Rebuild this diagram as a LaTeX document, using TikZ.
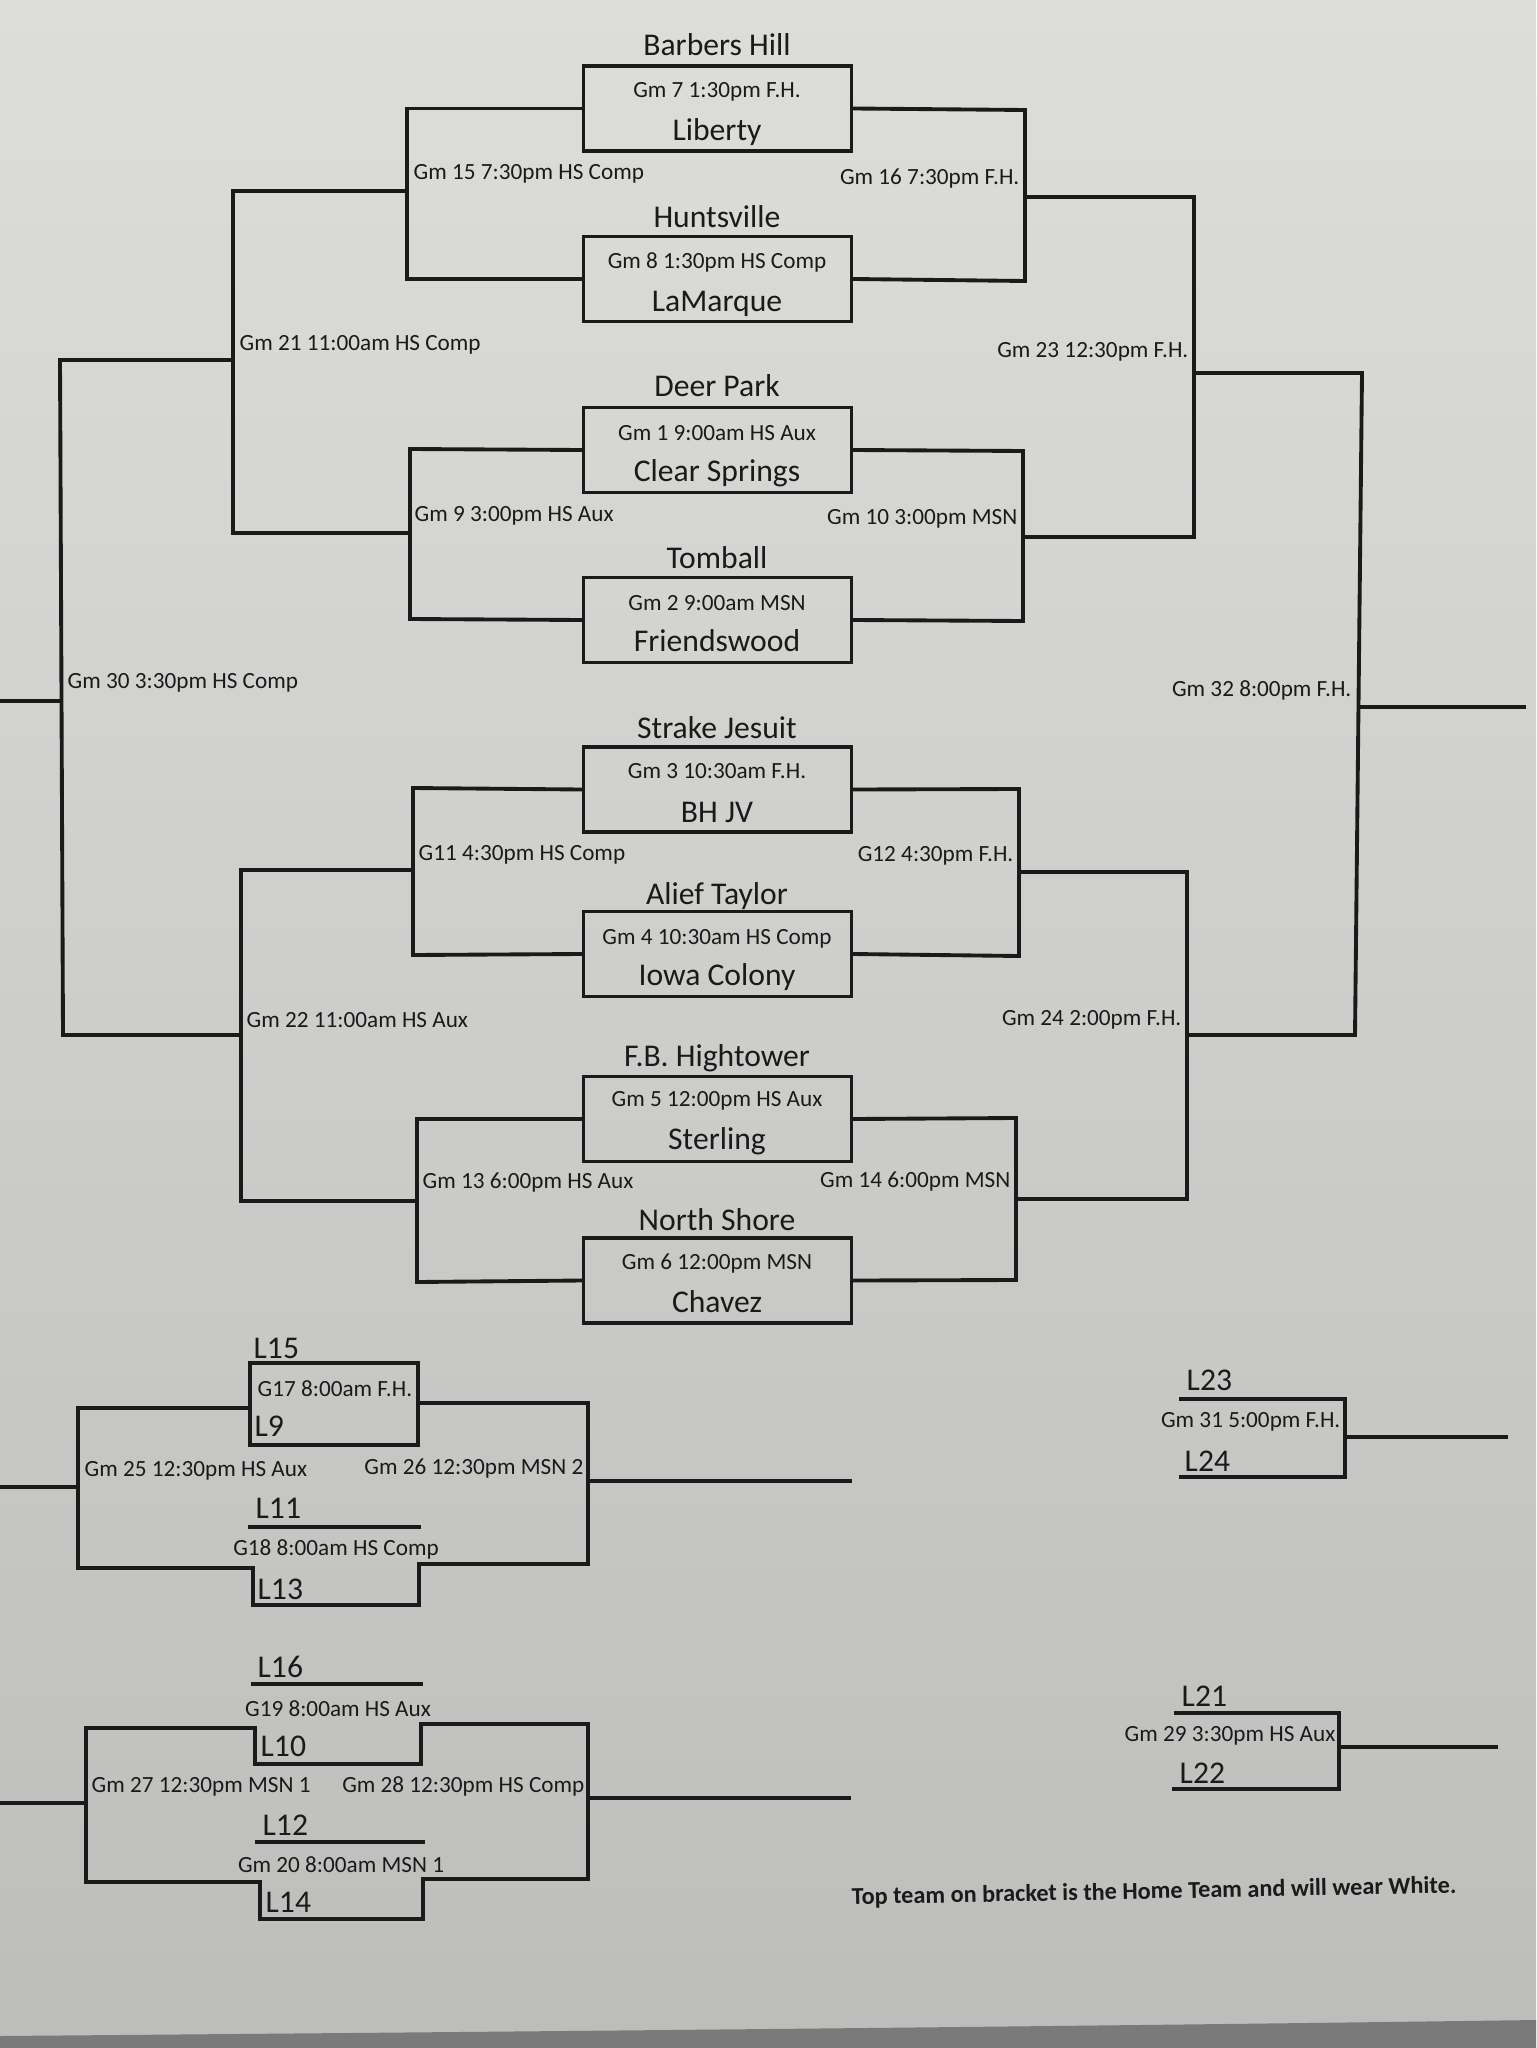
\documentclass[tikz,border=0pt]{standalone}
\usepackage{fontspec}
\setmainfont{Carlito}
\begin{document}
\begin{tikzpicture}[x=0.1mm,y=-0.1mm]
\definecolor{ink}{HTML}{1A1A1A}
\definecolor{paperTop}{HTML}{DDDDDA}
\definecolor{paperMid}{HTML}{D6D6D3}
\definecolor{paperBot}{HTML}{BDBDBB}
\definecolor{band}{HTML}{7A7A7A}
\tikzset{
  lbl/.style={font=\fontsize{6.6}{7}\selectfont, text=ink, inner sep=0pt},
  team/.style={font=\fontsize{9}{10}\selectfont, text=ink, inner sep=0pt},
  gbox/.style={draw=ink, line width=1.1pt, minimum width=26.8mm, minimum height=8.5mm, inner sep=0pt},
  br/.style={draw=ink, line width=1.1pt, line cap=rect},
  note/.style={font=\bfseries\fontsize{6.9}{8}\selectfont, text=ink, inner sep=0pt}
}
\useasboundingbox (0,0) rectangle (1536,2048);
\shade[top color=paperTop, middle color=paperMid, bottom color=paperBot] (0,0) rectangle (1536,2048);
\fill[band] (0,2036) .. controls (600,2031) and (1100,2026) .. (1536,2020) -- (1536,2048) -- (0,2048) -- cycle;

% ---------- first-round boxes ----------
\node[gbox] (g7) at (717.5,108.5) {};
\node[gbox] (g8) at (717.5,279) {};
\node[gbox] (g1) at (717.5,450) {};
\node[gbox] (g2) at (717.5,620) {};
\node[gbox] (g3) at (717.5,789.5) {};
\node[gbox] (g4) at (717.5,954) {};
\node[gbox] (g5) at (717.5,1119) {};
\node[gbox] (g6) at (717.5,1280.5) {};

% team names
\node[team] (tBH) at (717,45) {Barbers Hill};
\node[team] (tLib) at (717,132) {Liberty};
\node[team] (tHun) at (717,217) {Huntsville};
\node[team] (tLaM) at (717,304) {LaMarque};
\node[team] (tDP) at (717,386) {Deer Park};
\node[team] (tCS) at (717,473) {Clear Springs};
\node[team] (tTom) at (717,558) {Tomball};
\node[team] (tFri) at (717,641) {Friendswood};
\node[team] (tSJ) at (717,728) {Strake Jesuit};
\node[team] (tBHJV) at (717,812) {BH JV};
\node[team] (tAT) at (717,896) {Alief Taylor};
\node[team] (tIC) at (717,977) {Iowa Colony};
\node[team] (tFB) at (717,1058) {F.B. Hightower};
\node[team] (tSte) at (717,1141) {Sterling};
\node[team] (tNS) at (717,1220) {North Shore};
\node[team] (tCha) at (717,1302) {Chavez};

% game texts in boxes
\node[lbl] (x7) at (717,92) {Gm 7 1:30pm F.H.};
\node[lbl] (x8) at (717,262) {Gm 8 1:30pm HS Comp};
\node[lbl] (x1) at (717,433) {Gm 1 9:00am HS Aux};
\node[lbl] (x2) at (717,603) {Gm 2 9:00am MSN};
\node[lbl] (x3) at (717,771) {Gm 3 10:30am F.H.};
\node[lbl] (x4) at (717,939) {Gm 4 10:30am HS Comp};
\node[lbl] (x5) at (717,1101) {Gm 5 12:00pm HS Aux};
\node[lbl] (x6) at (717,1264) {Gm 6 12:00pm MSN};

% ---------- bracket connectors ----------
\coordinate (w15) at (407,191);
\coordinate (w16) at (1025,197);
\coordinate (w9) at (410,533);
\coordinate (w10) at (1023,537);
\coordinate (w11) at (413,870);
\coordinate (w12) at (1019,872);
\coordinate (w13) at (417,1201);
\coordinate (w14) at (1016,1199);

\draw[br] (g7.west) -- (407,108.5) -- (407,279) -- (g8.west);
\draw[br] (g7.east) -- (1025,110) -- (1025,281) -- (g8.east);
\draw[br] (g1.west) -- (410,449) -- (410,619) -- (g2.west);
\draw[br] (g1.east) -- (1023,451) -- (1023,621) -- (g2.east);
\draw[br] (g3.west) -- (413,788) -- (413,955) -- (g4.west);
\draw[br] (g3.east) -- (1019,789) -- (1019,956) -- (g4.east);
\draw[br] (g5.west) -- (417,1119) -- (417,1282) -- (g6.west);
\draw[br] (g5.east) -- (1016,1118) -- (1016,1280) -- (g6.east);

\coordinate (w21) at (233,360);
\coordinate (w23) at (1194,373);
\coordinate (w22) at (241,1035);
\coordinate (w24) at (1187,1035);
\draw[br] (w15) -- (233,191) -- (233,533) -- (w9);
\draw[br] (w16) -- (1194,197) -- (1194,537) -- (w10);
\draw[br] (w11) -- (241,870) -- (241,1201) -- (w13);
\draw[br] (w12) -- (1187,872) -- (1187,1199) -- (w14);

\coordinate (w30) at (0,701);
\coordinate (w32) at (1524,707);
\draw[br] (w21) -- (60,360) -- (63,1035) -- (w22);
\draw[br] (w23) -- (1362,373) -- (1355,1035) -- (w24);
\draw[br] (61.5,701) -- (w30);
\draw[br] (1358.5,707) -- (w32);

% bracket labels
\node[lbl, anchor=west] (l15) at (413,174) {Gm 15 7:30pm HS Comp};
\node[lbl, anchor=east] (l16) at (1020,179) {Gm 16 7:30pm F.H.};
\node[lbl, anchor=west] (l21) at (239,345) {Gm 21 11:00am HS Comp};
\node[lbl, anchor=east] (l23) at (1189,352) {Gm 23 12:30pm F.H.};
\node[lbl, anchor=west] (l9) at (414,516) {Gm 9 3:00pm HS Aux};
\node[lbl, anchor=east] (l10) at (1018,519) {Gm 10 3:00pm MSN};
\node[lbl, anchor=west] (l30) at (67,683) {Gm 30 3:30pm HS Comp};
\node[lbl, anchor=east] (l32) at (1352,690) {Gm 32 8:00pm F.H.};
\node[lbl, anchor=west] (l11) at (418,855) {G11 4:30pm HS Comp};
\node[lbl, anchor=east] (l12) at (1014,856) {G12 4:30pm F.H.};
\node[lbl, anchor=west] (l22) at (246,1020) {Gm 22 11:00am HS Aux};
\node[lbl, anchor=east] (l24) at (1182,1020) {Gm 24 2:00pm F.H.};
\node[lbl, anchor=west] (l13) at (422,1183) {Gm 13 6:00pm HS Aux};
\node[lbl, anchor=east] (l14) at (1011,1182) {Gm 14 6:00pm MSN};

% ---------- consolation bracket A ----------
\node[gbox, minimum width=16.8mm, minimum height=8.2mm] (g17) at (334,1404) {};
\node[team, anchor=west] (tL15) at (253,1348) {L15};
\node[lbl, anchor=west] (x17) at (257,1389) {G17 8:00am F.H.};
\node[team, anchor=west] (tL9) at (254,1426) {L9};
\coordinate (w25) at (0,1487);
\coordinate (w26) at (850,1481);
\draw[br] (g17.west |- 0,1408) -- (78,1408) -- (78,1568) -- (253,1568) -- (253,1605) -- (419,1605) -- (419,1564) -- (588,1564) -- (588,1403) -- (g17.east |- 0,1403);
\draw[br] (78,1487) -- (w25);
\draw[br] (588,1481) -- (w26);
\draw[br] (250,1527) -- (419,1527);
\node[lbl, anchor=west] (l25) at (84,1471) {Gm 25 12:30pm HS Aux};
\node[lbl, anchor=east] (l26) at (584,1469) {Gm 26 12:30pm MSN 2};
\node[team, anchor=west] (tL11) at (255,1508) {L11};
\node[lbl] (x18) at (336,1549) {G18 8:00am HS Comp};
\node[team, anchor=west] (tL13) at (257,1589) {L13};

% ---------- consolation bracket B ----------
\node[team, anchor=west] (tL16) at (257,1667) {L16};
\draw[br] (253,1684) -- (421,1684);
\node[lbl] (x19) at (338,1709) {G19 8:00am HS Aux};
\node[team, anchor=west] (tL10) at (260,1746) {L10};
\coordinate (w27) at (0,1803);
\coordinate (w28) at (849,1798);
\draw[br] (255,1728) -- (255,1764) -- (421,1764) -- (421,1724) -- (588,1724) -- (588,1879) -- (423,1879) -- (423,1919) -- (260,1919) -- (260,1882) -- (86,1882) -- (86,1728) -- cycle;
\draw[br] (86,1803) -- (w27);
\draw[br] (588,1798) -- (w28);
\node[lbl, anchor=west] (l27) at (91,1787) {Gm 27 12:30pm MSN 1};
\node[lbl, anchor=east] (l28) at (585,1786) {Gm 28 12:30pm HS Comp};
\node[team, anchor=west] (tL12) at (262,1825) {L12};
\draw[br] (257,1842) -- (423,1842);
\node[lbl] (x20) at (341,1865) {Gm 20 8:00am MSN 1};
\node[team, anchor=west] (tL14) at (265,1902) {L14};

% ---------- right consolation games ----------
\node[team, anchor=west] (tL23) at (1186,1380) {L23};
\draw[br] (1181,1399) -- (1345,1399) -- (1345,1477) -- (1181,1477);
\coordinate (w31) at (1506,1437);
\draw[br] (1345,1437) -- (w31);
\node[lbl, anchor=east] (l31) at (1341,1422) {Gm 31 5:00pm F.H.};
\node[team, anchor=west] (tL24) at (1184,1461) {L24};

\node[team, anchor=west] (tL21) at (1181,1696) {L21};
\draw[br] (1176,1713) -- (1339,1713) -- (1339,1789) -- (1174,1789);
\coordinate (w29) at (1496,1747);
\draw[br] (1339,1747) -- (w29);
\node[lbl, anchor=east] (l29) at (1336,1736) {Gm 29 3:30pm HS Aux};
\node[team, anchor=west] (tL22) at (1179,1773) {L22};

\node[note, anchor=west, rotate=1.1] (nt) at (851,1898) {Top team on bracket is the Home Team and will wear White.};
\end{tikzpicture}
\end{document}
